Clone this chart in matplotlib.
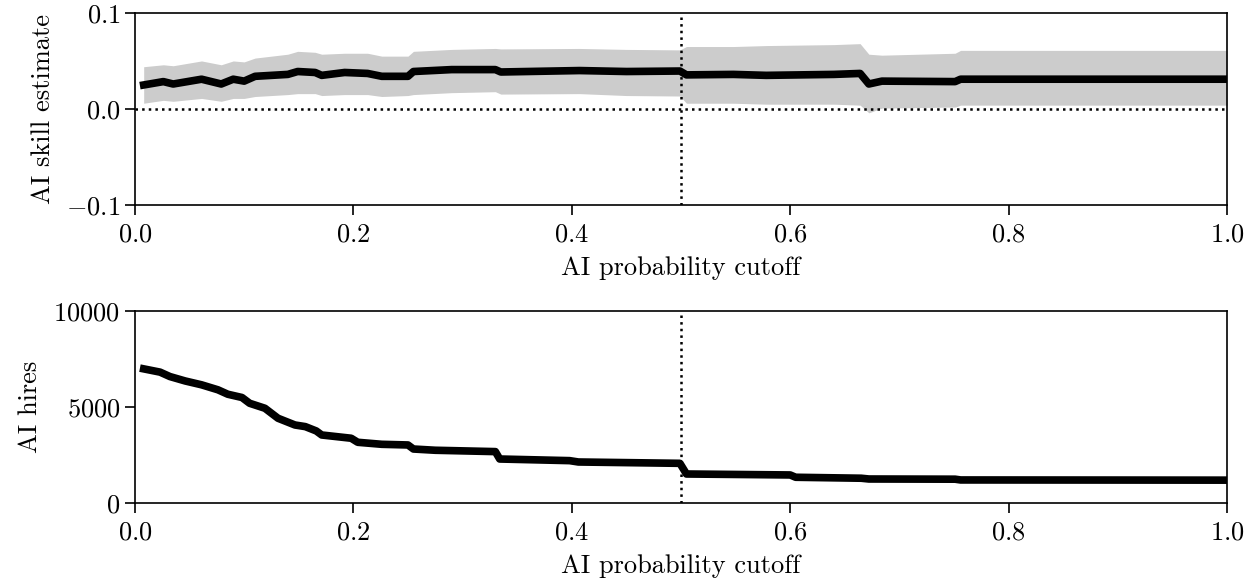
import matplotlib
matplotlib.use("Agg")
import matplotlib.pyplot as plt

plt.rcParams['font.family'] = 'serif'
plt.rcParams['font.serif'] = ['cmr10']
plt.rcParams['mathtext.fontset'] = 'cm'
plt.rcParams['axes.formatter.use_mathtext'] = True
plt.rcParams['font.size'] = 19

# skill estimate and its confidence band vs the probability cutoff
skill_cutoff = [0.008, 0.026, 0.035, 0.061, 0.079, 0.090, 0.100, 0.110, 0.140, 0.149,
                0.165, 0.171, 0.192, 0.213, 0.226, 0.250, 0.255, 0.290, 0.330, 0.335,
                0.407, 0.450, 0.499, 0.505, 0.548, 0.578, 0.640, 0.664, 0.672, 0.684,
                0.751, 0.756, 0.800, 0.900, 1.000]
skill_est = [0.025, 0.0285, 0.026, 0.031, 0.026, 0.031, 0.029, 0.034, 0.036, 0.039,
             0.038, 0.035, 0.038, 0.037, 0.034, 0.034, 0.039, 0.041, 0.041, 0.0385,
             0.040, 0.039, 0.0395, 0.0355, 0.036, 0.035, 0.036, 0.037, 0.026, 0.029,
             0.0285, 0.031, 0.031, 0.031, 0.031]
skill_lo = [0.006, 0.009, 0.008, 0.011, 0.008, 0.011, 0.011, 0.013, 0.015, 0.016,
            0.016, 0.014, 0.015, 0.015, 0.013, 0.014, 0.015, 0.017, 0.018, 0.0155,
            0.016, 0.014, 0.0135, 0.006, 0.006, 0.005, 0.005, 0.004, -0.004, 0.001,
            0.002, 0.004, 0.004, 0.004, 0.004]
skill_hi = [0.044, 0.046, 0.045, 0.050, 0.046, 0.050, 0.049, 0.053, 0.057, 0.060,
            0.059, 0.057, 0.058, 0.058, 0.055, 0.055, 0.060, 0.062, 0.063, 0.0625,
            0.063, 0.062, 0.0615, 0.065, 0.065, 0.066, 0.067, 0.068, 0.057, 0.056,
            0.058, 0.061, 0.061, 0.061, 0.061]

# number of AI hires vs the probability cutoff
hires_cutoff = [0.008, 0.023, 0.032, 0.046, 0.061, 0.076, 0.085, 0.098, 0.105, 0.119,
                0.131, 0.1465, 0.156, 0.166, 0.171, 0.198, 0.204, 0.226, 0.250, 0.255,
                0.275, 0.330, 0.334, 0.398, 0.406, 0.499, 0.505, 0.600, 0.605, 0.665,
                0.672, 0.751, 0.756, 0.900, 1.000]
hires = [6980, 6810, 6580, 6350, 6150, 5890, 5660, 5490, 5190, 4930,
         4410, 4060, 3975, 3750, 3540, 3370, 3160, 3055, 3020, 2810,
         2745, 2675, 2290, 2205, 2135, 2065, 1510, 1460, 1340, 1290,
         1250, 1240, 1200, 1195, 1190]

fig = plt.figure(figsize=(12.53, 5.86), dpi=100)
ax1 = fig.add_axes([0.1077, 0.650, 0.8716, 0.328])
ax2 = fig.add_axes([0.1077, 0.1416, 0.8716, 0.328])

ax1.fill_between(skill_cutoff, skill_lo, skill_hi, color='#cccccc', lw=0)
ax1.plot(skill_cutoff, skill_est, color='black', lw=5.5)
ax1.axhline(0, color='black', ls=':', lw=1.8)
ax1.axvline(0.5, color='black', ls=':', lw=1.8)
ax1.set_xlim(0, 1)
ax1.set_ylim(-0.1, 0.1)
ax1.set_yticks([-0.1, 0.0, 0.1])
ax1.set_xlabel('AI probability cutoff', labelpad=7)
ax1.set_ylabel('AI skill estimate', labelpad=8)

ax2.plot(hires_cutoff, hires, color='black', lw=5.5)
ax2.axvline(0.5, color='black', ls=':', lw=1.8)
ax2.set_xlim(0, 1)
ax2.set_ylim(0, 10000)
ax2.set_yticks([0, 5000, 10000])
ax2.set_xlabel('AI probability cutoff', labelpad=7)
ax2.set_ylabel('AI hires', labelpad=8)

for ax in (ax1, ax2):
    ax.tick_params(length=7, width=1.2)
    ax.tick_params(axis='x', pad=6)
    for s in ax.spines.values():
        s.set_linewidth(1.2)

fig.savefig('out.png', dpi=100)
